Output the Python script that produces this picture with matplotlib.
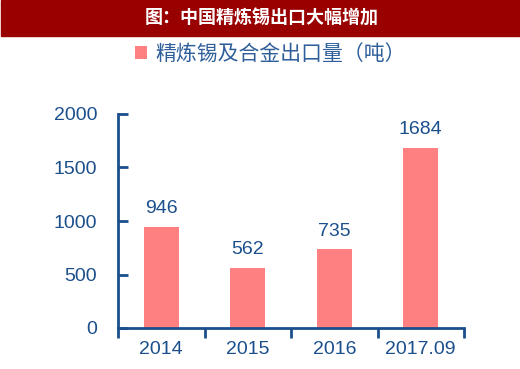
import matplotlib.pyplot as plt
from matplotlib.patches import Rectangle

plt.rcParams['font.family'] = ['Liberation Sans', 'Noto Sans CJK SC', 'DejaVu Sans']

# Data
years = ['2014', '2015', '2016', '2017.09']
exports = [946, 562, 735, 1684]
y_ticks = [0, 500, 1000, 1500, 2000]

title = '图：中国精炼锡出口大幅增加'
series_name = '精炼锡及合金出口量（吨）'

axis_color = '#1b4f8c'
bar_color = '#ff8080'

fig = plt.figure(figsize=(5.2, 3.69), dpi=100)

# Title banner
fig.patches.append(Rectangle((0.002, 1 - 36 / 369), 0.998, 36 / 369,
                             transform=fig.transFigure, color='#990000', zorder=0))
fig.text(0.504, 1 - 18 / 369, title, color='white', fontsize=13,
         fontweight='bold', ha='center', va='center',
         family=['Noto Sans CJK SC', 'DejaVu Sans'])

ax = fig.add_axes([118 / 520, 41 / 369, 346 / 520, 214 / 369])
x = range(len(years))
bars = ax.bar(x, exports, width=0.4, color=bar_color, label=series_name)
ax.bar_label(bars, labels=[str(v) for v in exports], padding=7,
             fontsize=14, color=axis_color)

ax.set_xlim(-0.5, len(years) - 0.5)
ax.set_ylim(0, 2000)
ax.set_yticks(y_ticks)
ax.set_xticks(list(x))
ax.set_xticklabels(years)
ax.set_xticks([i + 0.5 for i in range(-1, len(years))], minor=True)

for side in ['top', 'right']:
    ax.spines[side].set_visible(False)
for side in ['left', 'bottom']:
    ax.spines[side].set_color(axis_color)
    ax.spines[side].set_linewidth(2)

ax.tick_params(axis='y', direction='in', length=7, width=2, color=axis_color,
               labelcolor=axis_color, labelsize=14, pad=15)
ax.tick_params(axis='x', which='major', length=0, labelcolor=axis_color,
               labelsize=14, pad=9)
ax.tick_params(axis='x', which='minor', direction='out', length=7, width=2,
               color=axis_color)

leg = fig.legend(loc='center', bbox_to_anchor=(0.52, 1 - 54 / 369),
                 frameon=False, handlelength=0.6, handleheight=0.6,
                 handletextpad=0.4,
                 prop={'family': ['Noto Sans CJK SC', 'DejaVu Sans'], 'size': 15})
for t in leg.get_texts():
    t.set_color('#2e5f9a')

fig.savefig('out.png', dpi=100)
